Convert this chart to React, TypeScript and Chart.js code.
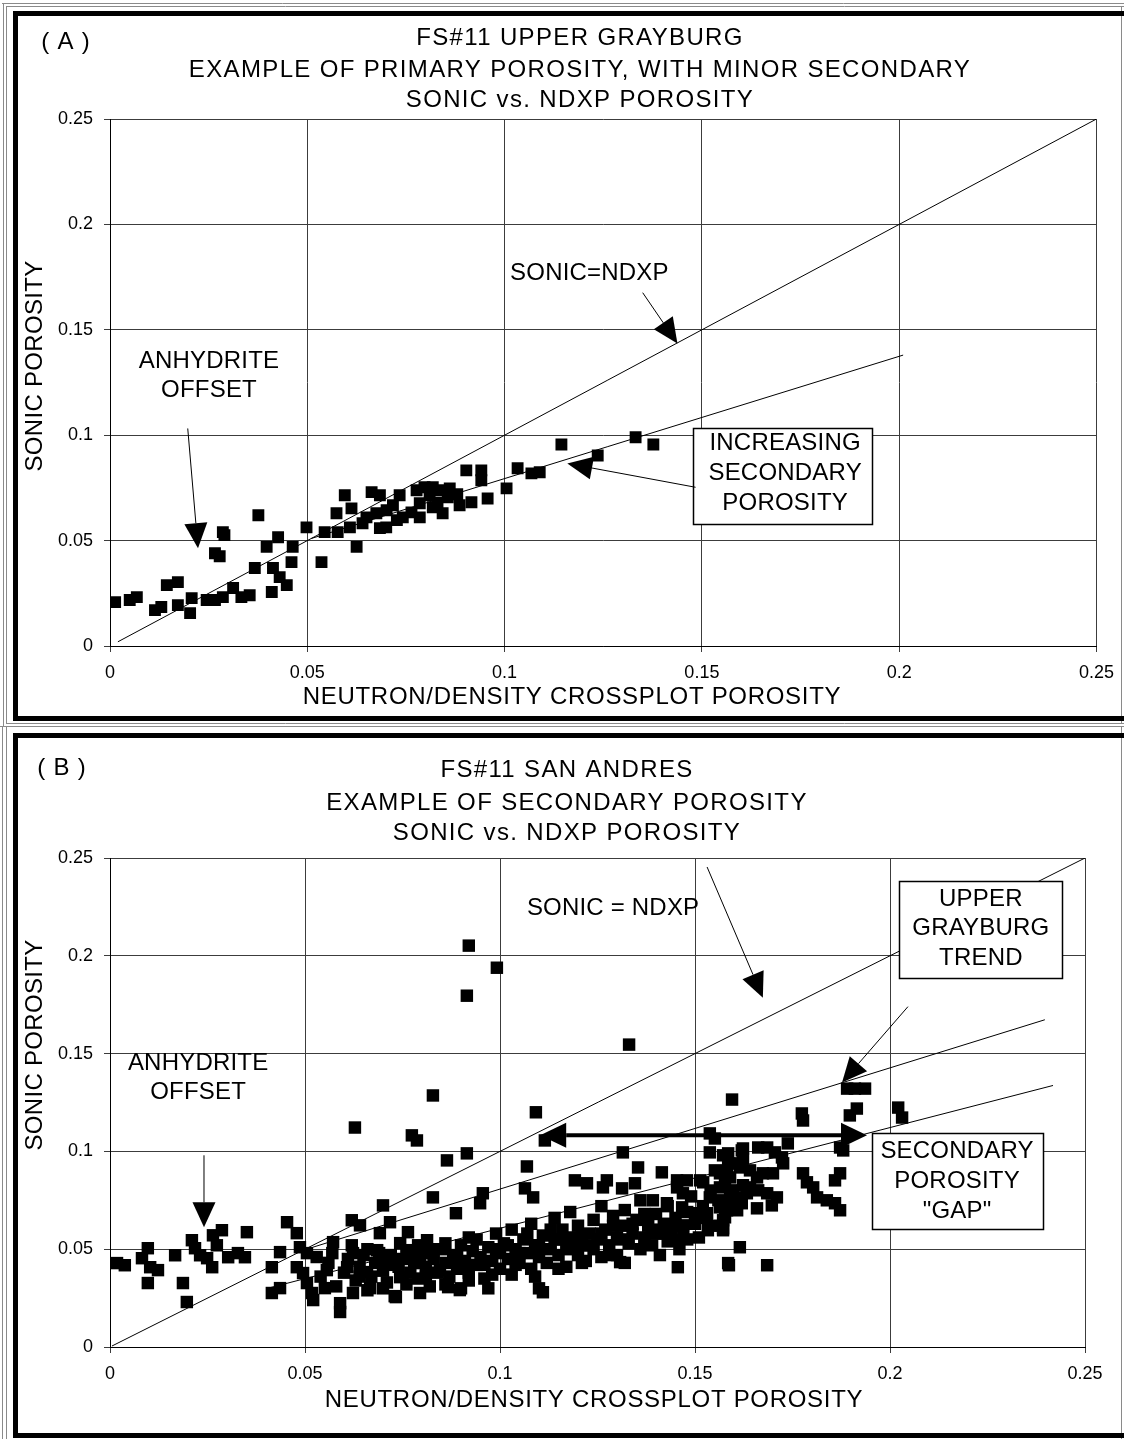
import React, { useEffect, useRef } from 'react';
import { Chart, registerables } from 'chart.js';

Chart.register(...registerables);

const FONT = '"Liberation Sans", Arial, Helvetica, sans-serif';

const axisTicks = [0, 0.05, 0.1, 0.15, 0.2, 0.25];
const axisTickLabels = ['0', '0.05', '0.1', '0.15', '0.2', '0.25'];

const titleA = ['FS#11 UPPER GRAYBURG', 'EXAMPLE OF PRIMARY POROSITY, WITH MINOR SECONDARY', 'SONIC vs. NDXP POROSITY'];
const titleB = ['FS#11 SAN ANDRES', 'EXAMPLE OF SECONDARY POROSITY', 'SONIC vs. NDXP POROSITY'];
const xAxisTitle = 'NEUTRON/DENSITY CROSSPLOT POROSITY';
const yAxisTitle = 'SONIC POROSITY';

// Panel A: Upper Grayburg (x = NDXP porosity, y = sonic porosity)
const upperGrayburgPoints: number[][] = [
  [0.0013, 0.0208], [0.005, 0.0218], [0.0068, 0.0232], [0.0114, 0.017], [0.013, 0.0185], [0.0144, 0.0289],
  [0.0172, 0.0303], [0.0172, 0.0194], [0.0203, 0.0156], [0.0207, 0.0227], [0.0245, 0.0218], [0.0266, 0.0218],
  [0.0286, 0.0232], [0.0312, 0.0275], [0.0333, 0.0232], [0.0354, 0.0241], [0.0266, 0.044], [0.0278, 0.0426],
  [0.0286, 0.054], [0.029, 0.0526], [0.0376, 0.062], [0.0367, 0.037], [0.0397, 0.047], [0.0413, 0.037],
  [0.0426, 0.0516], [0.041, 0.0256], [0.043, 0.0327], [0.0448, 0.0289], [0.046, 0.0398], [0.0463, 0.047],
  [0.0498, 0.0563], [0.0536, 0.0398], [0.0544, 0.054], [0.0574, 0.063], [0.0577, 0.054], [0.0595, 0.0715],
  [0.0612, 0.0653], [0.0625, 0.047], [0.0608, 0.0563], [0.064, 0.0582], [0.065, 0.061], [0.0663, 0.073],
  [0.0684, 0.0715], [0.0675, 0.063], [0.0684, 0.0559], [0.0701, 0.0644], [0.0717, 0.0668], [0.0734, 0.0715],
  [0.0742, 0.061], [0.0764, 0.0634], [0.0777, 0.0739], [0.0785, 0.061], [0.0797, 0.0753], [0.081, 0.0715],
  [0.0818, 0.0753], [0.0835, 0.0739], [0.0843, 0.063], [0.0856, 0.0705], [0.0861, 0.0748], [0.0886, 0.0668],
  [0.0903, 0.0833], [0.0916, 0.0682], [0.0941, 0.0833], [0.0941, 0.0786], [0.0957, 0.07], [0.1005, 0.0748],
  [0.1033, 0.0843], [0.1068, 0.0819], [0.1089, 0.0824], [0.1144, 0.0956], [0.1236, 0.0904], [0.1332, 0.099],
  [0.1377, 0.0956], [0.0785, 0.0677], [0.0818, 0.0658], [0.0727, 0.0597], [0.07, 0.0563], [0.088, 0.072],
  [0.083, 0.068],
];
const equalLineA: number[][] = [[0.002, 0.002], [0.25, 0.25]];
const grayburgTrendA: number[][] = [[0.051, 0.051], [0.201, 0.138]];

// Panel B: San Andres
const sanAndresPoints: number[][] = [
  [0.0018, 0.0429], [0.0038, 0.0418], [0.0082, 0.0454], [0.0097, 0.0505], [0.0103, 0.0408], [0.0097, 0.0327],
  [0.0123, 0.0393], [0.0167, 0.0469], [0.0187, 0.0327], [0.0197, 0.023], [0.021, 0.0546], [0.0218, 0.0505],
  [0.0231, 0.0469], [0.0249, 0.0454], [0.0262, 0.0408], [0.0264, 0.0571], [0.0287, 0.0597], [0.0274, 0.052],
  [0.0303, 0.0459], [0.0328, 0.048], [0.0346, 0.0459], [0.0351, 0.0587], [0.0436, 0.0485], [0.0415, 0.0408],
  [0.0415, 0.0276], [0.0436, 0.0301], [0.0454, 0.0638], [0.0479, 0.0582], [0.0487, 0.051], [0.0505, 0.048],
  [0.0479, 0.0408], [0.0495, 0.0378], [0.0505, 0.0327], [0.0518, 0.0276], [0.0521, 0.024], [0.0551, 0.0301],
  [0.0572, 0.0536], [0.0556, 0.0393], [0.059, 0.0224], [0.059, 0.0179], [0.062, 0.0648], [0.0641, 0.0622],
  [0.0623, 0.048], [0.0608, 0.0408], [0.0623, 0.0276], [0.0659, 0.0383], [0.0667, 0.0301], [0.0628, 0.1122],
  [0.07, 0.0724], [0.0692, 0.0582], [0.0718, 0.0638], [0.0685, 0.0495], [0.071, 0.0444], [0.0744, 0.0357],
  [0.0764, 0.0587], [0.0769, 0.0495], [0.0795, 0.0429], [0.0795, 0.0276], [0.0828, 0.0765], [0.0828, 0.1286],
  [0.0774, 0.1082], [0.0787, 0.1056], [0.0813, 0.0546], [0.0828, 0.048], [0.0864, 0.0954], [0.0846, 0.0393],
  [0.0867, 0.0306], [0.0744, 0.0531],
  [0.0992, 0.1939], [0.0915, 0.1796], [0.092, 0.2052], [0.1331, 0.1546], [0.1092, 0.12], [0.1115, 0.1056],
  [0.0915, 0.099], [0.1069, 0.0923], [0.1315, 0.0995], [0.1354, 0.0918], [0.1415, 0.0893], [0.1595, 0.1265],
  [0.1538, 0.1092], [0.1551, 0.1066], [0.1538, 0.0995], [0.1572, 0.098], [0.162, 0.1005], [0.0887, 0.0684],
  [0.0956, 0.0786], [0.0949, 0.0735], [0.1064, 0.0811], [0.1085, 0.0765], [0.1192, 0.0852], [0.1223, 0.0837],
  [0.1274, 0.0852], [0.1264, 0.0816], [0.1313, 0.0811], [0.1346, 0.0837], [0.1392, 0.075], [0.1428, 0.0735],
  [0.1454, 0.0852], [0.1479, 0.0852], [0.1513, 0.0852], [0.1454, 0.0816], [0.1469, 0.0786], [0.1467, 0.0714],
  [0.1469, 0.0622], [0.1456, 0.0546], [0.1456, 0.0408], [0.1533, 0.0597], [0.1508, 0.0684], [0.1538, 0.0765],
  [0.1572, 0.0607], [0.1585, 0.0429], [0.1615, 0.051], [0.1308, 0.0434], [0.1551, 0.0903], [0.1582, 0.0903],
  [0.1597, 0.0939], [0.1577, 0.0837], [0.1597, 0.0801], [0.1623, 0.0827], [0.1633, 0.0786], [0.1582, 0.0699],
  [0.1577, 0.0663], [0.1608, 0.0699], [0.162, 0.0735],
  [0.1774, 0.1194], [0.1777, 0.1158], [0.189, 0.1321], [0.191, 0.1321], [0.1936, 0.1321], [0.1915, 0.1219],
  [0.1897, 0.1184], [0.2021, 0.1224], [0.2031, 0.1173], [0.1872, 0.102], [0.188, 0.1005], [0.1585, 0.099],
  [0.1585, 0.0939], [0.1623, 0.1015], [0.1623, 0.0964], [0.1662, 0.102], [0.1685, 0.102], [0.1705, 0.0995],
  [0.1723, 0.0969], [0.1738, 0.1041], [0.1726, 0.0939], [0.1564, 0.0888], [0.159, 0.0867], [0.1615, 0.0918],
  [0.1641, 0.0903], [0.1659, 0.0867], [0.1674, 0.0888], [0.1521, 0.0842], [0.17, 0.0888], [0.1777, 0.0888],
  [0.1787, 0.0842], [0.1803, 0.0816], [0.1813, 0.0765], [0.1838, 0.075], [0.1859, 0.0735], [0.1872, 0.0699],
  [0.1859, 0.0852], [0.1872, 0.0888], [0.1564, 0.0816], [0.159, 0.0786], [0.1564, 0.0714], [0.159, 0.0735],
  [0.1615, 0.0765], [0.1641, 0.0816], [0.1662, 0.0801], [0.1685, 0.0786], [0.171, 0.0765], [0.1659, 0.0709],
  [0.1697, 0.0724], [0.1531, 0.0684], [0.1572, 0.0648], [0.1572, 0.0597], [0.1587, 0.0418], [0.1685, 0.0418],
  [0.053, 0.046], [0.054, 0.036], [0.056, 0.043], [0.057, 0.048], [0.058, 0.031], [0.06, 0.038], [0.061, 0.045],
  [0.063, 0.034], [0.064, 0.041], [0.065, 0.047], [0.066, 0.029], [0.067, 0.036], [0.068, 0.043], [0.07, 0.039],
  [0.071, 0.033], [0.072, 0.047], [0.073, 0.026], [0.074, 0.041], [0.075, 0.045], [0.076, 0.032], [0.077, 0.038],
  [0.078, 0.044], [0.079, 0.035], [0.08, 0.048], [0.081, 0.041], [0.082, 0.031], [0.083, 0.045], [0.084, 0.038],
  [0.085, 0.05], [0.086, 0.043], [0.087, 0.036], [0.088, 0.047], [0.089, 0.04], [0.09, 0.03], [0.09, 0.052],
  [0.091, 0.044], [0.092, 0.038], [0.093, 0.049], [0.094, 0.055], [0.094, 0.042], [0.095, 0.046], [0.096, 0.035],
  [0.097, 0.051], [0.097, 0.03], [0.098, 0.044], [0.099, 0.058], [0.1, 0.048], [0.1, 0.04], [0.101, 0.053],
  [0.102, 0.045], [0.103, 0.06], [0.103, 0.037], [0.104, 0.05], [0.105, 0.043], [0.106, 0.055], [0.107, 0.048],
  [0.108, 0.063], [0.108, 0.04], [0.109, 0.052], [0.11, 0.03], [0.11, 0.046], [0.111, 0.057], [0.111, 0.028],
  [0.112, 0.043], [0.113, 0.05], [0.114, 0.066], [0.114, 0.055], [0.115, 0.047], [0.116, 0.06], [0.117, 0.041],
  [0.117, 0.052], [0.118, 0.069], [0.119, 0.056], [0.12, 0.047], [0.12, 0.062], [0.121, 0.052], [0.122, 0.044],
  [0.123, 0.058], [0.124, 0.065], [0.124, 0.05], [0.125, 0.055], [0.126, 0.072], [0.126, 0.046], [0.127, 0.06],
  [0.128, 0.052], [0.129, 0.067], [0.13, 0.056], [0.13, 0.047], [0.131, 0.062], [0.132, 0.043], [0.132, 0.07],
  [0.133, 0.053], [0.134, 0.058], [0.135, 0.065], [0.136, 0.05], [0.136, 0.075], [0.137, 0.056], [0.138, 0.062],
  [0.139, 0.052], [0.14, 0.068], [0.14, 0.058], [0.141, 0.047], [0.142, 0.063], [0.143, 0.072], [0.143, 0.054],
  [0.144, 0.059], [0.145, 0.066], [0.146, 0.05], [0.147, 0.06], [0.148, 0.069], [0.148, 0.055], [0.149, 0.077],
  [0.15, 0.063], [0.151, 0.056], [0.152, 0.072], [0.153, 0.066], [0.154, 0.08], [0.155, 0.062], [0.156, 0.075],
  [0.0733, 0.0255], [0.0897, 0.0291],
  [0.062, 0.052], [0.066, 0.05], [0.069, 0.048], [0.072, 0.042], [0.076, 0.049], [0.079, 0.052], [0.082, 0.05],
  [0.086, 0.053], [0.089, 0.046], [0.092, 0.056], [0.096, 0.042], [0.099, 0.05], [0.102, 0.052], [0.105, 0.048],
  [0.107, 0.058], [0.11, 0.052], [0.113, 0.06], [0.116, 0.055], [0.118, 0.05], [0.121, 0.057], [0.123, 0.052],
  [0.126, 0.058], [0.129, 0.062], [0.131, 0.055], [0.134, 0.063], [0.137, 0.068], [0.139, 0.06], [0.142, 0.058],
  [0.145, 0.062], [0.064, 0.036], [0.07, 0.03], [0.075, 0.036], [0.081, 0.036], [0.086, 0.032], [0.092, 0.034],
  [0.098, 0.037], [0.104, 0.042], [0.109, 0.036], [0.115, 0.04], [0.121, 0.043], [0.128, 0.047],
];
const equalLineB: number[][] = [[0.0005, 0.0005], [0.25, 0.25]];
const grayburgTrendB: number[][] = [[0.052, 0.051], [0.2397, 0.1673]];
const sanAndresTrendB: number[][] = [[0.04, 0.0298], [0.2418, 0.1337]];

type Ann =
  | { kind: 'text'; x: number; y: number; lines: string[]; gap: number }
  | { kind: 'arrow'; from: number[]; to: number[]; width?: number; double?: boolean; head?: number; half?: number }
  | { kind: 'box'; x1: number; y1: number; x2: number; y2: number };

const annotationsA: Ann[] = [
  { kind: 'text', x: 0.1215, y: 0.177, lines: ['SONIC=NDXP'], gap: 0 },
  { kind: 'arrow', from: [0.135, 0.1676], to: [0.1438, 0.1435] },
  { kind: 'text', x: 0.0251, y: 0.135, lines: ['ANHYDRITE', 'OFFSET'], gap: 29 },
  { kind: 'arrow', from: [0.0197, 0.1032], to: [0.0223, 0.0464] },
  { kind: 'box', x1: 0.1478, y1: 0.1032, x2: 0.1932, y2: 0.0578 },
  { kind: 'text', x: 0.1711, y: 0.0961, lines: ['INCREASING', 'SECONDARY', 'POROSITY'], gap: 30 },
  { kind: 'arrow', from: [0.1484, 0.0753], to: [0.1159, 0.0866] },
];

const annotationsB: Ann[] = [
  { kind: 'text', x: 0.129, y: 0.2245, lines: ['SONIC = NDXP'], gap: 0 },
  { kind: 'arrow', from: [0.1531, 0.2454], to: [0.1674, 0.1786] },
  { kind: 'box', x1: 0.2023, y1: 0.2383, x2: 0.2441, y2: 0.1888 },
  { kind: 'text', x: 0.2233, y: 0.2291, lines: ['UPPER', 'GRAYBURG', 'TREND'], gap: 29.5 },
  { kind: 'arrow', from: [0.2046, 0.174], to: [0.1877, 0.1352] },
  { kind: 'text', x: 0.0226, y: 0.1449, lines: ['ANHYDRITE', 'OFFSET'], gap: 29 },
  { kind: 'arrow', from: [0.0241, 0.098], to: [0.0241, 0.0612] },
  { kind: 'arrow', from: [0.1103, 0.1082], to: [0.1941, 0.1082], width: 4, double: true, head: 26, half: 12.5 },
  { kind: 'box', x1: 0.1954, y1: 0.1092, x2: 0.2392, y2: 0.0602 },
  { kind: 'text', x: 0.2172, y: 0.1, lines: ['SECONDARY', 'POROSITY', '"GAP"'], gap: 30 },
];

interface PanelCfg {
  height: number;
  points: number[][];
  lines: number[][][];
  pointRadius: number;
  padTop: number;
  padRight: number;
  xAxisHeight: number;
  title: string[];
  titleX: number;
  titleY: number[];
  tag: string;
  tagPos: number[];
  xTitlePos: number[];
  yTitlePos: number[];
  frame: number[];
  gray: number[][];
  annotations: Ann[];
}

const panelA: PanelCfg = {
  height: 727,
  points: upperGrayburgPoints,
  lines: [equalLineA, grayburgTrendA],
  pointRadius: 8.4,
  padTop: 119,
  padRight: 27,
  xAxisHeight: 81,
  title: titleA,
  titleX: 580,
  titleY: [38.5, 70, 100],
  tag: '( A )',
  tagPos: [66, 42],
  xTitlePos: [572, 697],
  yTitlePos: [35, 366],
  frame: [15.5, 13.5, 1130, 705],
  gray: [[2, 3.5, 1124, 3.5], [6, 6.5, 1124, 6.5], [3.5, 3, 3.5, 727], [6.5, 6, 6.5, 724], [6, 723.5, 1124, 723.5], [0, 726.5, 1124, 726.5], [1121.5, 6, 1121.5, 724]],
  annotations: annotationsA,
};

const panelB: PanelCfg = {
  height: 712,
  points: sanAndresPoints,
  lines: [equalLineB, grayburgTrendB, sanAndresTrendB],
  pointRadius: 8.8,
  padTop: 131,
  padRight: 39,
  xAxisHeight: 92,
  title: titleB,
  titleX: 567,
  titleY: [43.5, 76.5, 106.5],
  tag: '( B )',
  tagPos: [62, 41],
  xTitlePos: [594, 673],
  yTitlePos: [35, 318],
  frame: [15.5, 8.5, 1130, 700],
  gray: [[2.5, 0, 2.5, 712], [6.5, 0, 6.5, 712], [1121.5, 0, 1121.5, 712]],
  annotations: annotationsB,
};

function setSpacing(ctx: CanvasRenderingContext2D, px: number) {
  (ctx as any).letterSpacing = `${px}px`;
}

function drawArrowHead(ctx: CanvasRenderingContext2D, fx: number, fy: number, tx: number, ty: number, len: number, half: number) {
  const dx = tx - fx;
  const dy = ty - fy;
  const d = Math.hypot(dx, dy) || 1;
  const ux = dx / d;
  const uy = dy / d;
  const bx = tx - ux * len;
  const by = ty - uy * len;
  ctx.beginPath();
  ctx.moveTo(tx, ty);
  ctx.lineTo(bx - uy * half, by + ux * half);
  ctx.lineTo(bx + uy * half, by - ux * half);
  ctx.closePath();
  ctx.fill();
  return [bx, by];
}

const decorPlugin = {
  id: 'decor',
  beforeDraw(chart: any, _args: any, opts: any) {
    const cfg: PanelCfg = opts.cfg;
    const ctx: CanvasRenderingContext2D = chart.ctx;
    ctx.save();
    ctx.fillStyle = '#ffffff';
    ctx.fillRect(0, 0, chart.width, chart.height);
    ctx.strokeStyle = '#8a8a8a';
    ctx.lineWidth = 1;
    cfg.gray.forEach((g) => {
      ctx.beginPath();
      ctx.moveTo(g[0], g[1]);
      ctx.lineTo(g[2], g[3]);
      ctx.stroke();
    });
    ctx.strokeStyle = '#000000';
    ctx.lineWidth = 5;
    ctx.strokeRect(cfg.frame[0], cfg.frame[1], cfg.frame[2], cfg.frame[3]);
    ctx.restore();
  },
  afterDatasetsDraw(chart: any, _args: any, opts: any) {
    const cfg: PanelCfg = opts.cfg;
    const ctx: CanvasRenderingContext2D = chart.ctx;
    const xs = chart.scales.x;
    const ys = chart.scales.y;
    const px = (v: number) => xs.getPixelForValue(v);
    const py = (v: number) => ys.getPixelForValue(v);
    ctx.save();
    ctx.font = `24px ${FONT}`;
    ctx.textAlign = 'center';
    ctx.textBaseline = 'middle';
    setSpacing(ctx, 0.2);
    cfg.annotations.forEach((a) => {
      if (a.kind === 'box') {
        const x1 = Math.round(px(a.x1)) + 0.5;
        const y1 = Math.round(py(a.y1)) + 0.5;
        const x2 = Math.round(px(a.x2)) + 0.5;
        const y2 = Math.round(py(a.y2)) + 0.5;
        ctx.fillStyle = '#ffffff';
        ctx.fillRect(x1, y1, x2 - x1, y2 - y1);
        ctx.strokeStyle = '#000000';
        ctx.lineWidth = 1.5;
        ctx.strokeRect(x1, y1, x2 - x1, y2 - y1);
      } else if (a.kind === 'arrow') {
        const fx = px(a.from[0]);
        const fy = py(a.from[1]);
        const tx = px(a.to[0]);
        const ty = py(a.to[1]);
        const len = a.head ?? 25;
        const half = a.half ?? 11.5;
        ctx.fillStyle = '#000000';
        ctx.strokeStyle = '#000000';
        ctx.lineWidth = a.width ?? 1;
        const [bx, by] = drawArrowHead(ctx, fx, fy, tx, ty, len, half);
        let sx = fx;
        let sy = fy;
        if (a.double) {
          const r = drawArrowHead(ctx, tx, ty, fx, fy, len, half);
          sx = r[0];
          sy = r[1];
        }
        ctx.beginPath();
        ctx.moveTo(sx, sy);
        ctx.lineTo(bx, by);
        ctx.stroke();
      } else if (a.kind === 'text') {
        ctx.fillStyle = '#000000';
        const x = px(a.x);
        const y = py(a.y);
        a.lines.forEach((l, i) => ctx.fillText(l, x, y + i * a.gap));
      }
    });
    ctx.restore();
  },
  afterDraw(chart: any, _args: any, opts: any) {
    const cfg: PanelCfg = opts.cfg;
    const ctx: CanvasRenderingContext2D = chart.ctx;
    ctx.save();
    ctx.fillStyle = '#000000';
    ctx.textBaseline = 'middle';
    ctx.font = `24px ${FONT}`;
    ctx.textAlign = 'center';
    setSpacing(ctx, 1.35);
    cfg.title.forEach((t, i) => ctx.fillText(t, cfg.titleX, cfg.titleY[i]));
    setSpacing(ctx, 0.8);
    ctx.fillText(cfg.tag, cfg.tagPos[0], cfg.tagPos[1]);
    setSpacing(ctx, 0.7);
    ctx.fillText(xAxisTitle, cfg.xTitlePos[0], cfg.xTitlePos[1]);
    setSpacing(ctx, 0.3);
    ctx.translate(cfg.yTitlePos[0], cfg.yTitlePos[1]);
    ctx.rotate(-Math.PI / 2);
    ctx.fillText(yAxisTitle, 0, 0);
    ctx.restore();
  },
};

function axisOptions(axis: 'x' | 'y', size: number) {
  return {
    type: 'linear' as const,
    min: 0,
    max: 0.25,
    afterBuildTicks: (s: any) => {
      s.ticks = axisTicks.map((v) => ({ value: v }));
    },
    afterFit: (s: any) => {
      if (axis === 'x') s.height = size;
      else s.width = size;
    },
    ticks: {
      autoSkip: false,
      maxRotation: 0,
      padding: axis === 'x' ? 10 : 11,
      color: '#000000',
      font: { family: FONT, size: 18 },
      callback: (v: any) => {
        const i = axisTicks.findIndex((t) => Math.abs(t - Number(v)) < 1e-9);
        return i >= 0 ? axisTickLabels[i] : '';
      },
    },
    grid: { color: '#3c3c3c', lineWidth: 1, tickLength: 6, drawTicks: true },
    border: { display: true, color: '#000000', width: 1 },
  };
}

function buildConfig(cfg: PanelCfg): any {
  const datasets: any[] = [
    {
      data: cfg.points.map((p) => ({ x: p[0], y: p[1] })),
      showLine: false,
      pointStyle: 'rect',
      pointRadius: cfg.pointRadius,
      pointBackgroundColor: '#000000',
      pointBorderWidth: 0,
      pointBorderColor: '#000000',
    },
    ...cfg.lines.map((l) => ({
      data: l.map((p) => ({ x: p[0], y: p[1] })),
      showLine: true,
      borderColor: '#000000',
      borderWidth: 1,
      pointRadius: 0,
      fill: false,
    })),
  ];
  return {
    type: 'scatter',
    data: { datasets },
    options: {
      animation: false,
      responsive: false,
      events: [],
      layout: { padding: { top: cfg.padTop, right: cfg.padRight, left: 0, bottom: 0 } },
      scales: {
        x: axisOptions('x', cfg.xAxisHeight),
        y: axisOptions('y', 110),
      },
      plugins: {
        legend: { display: false },
        tooltip: { enabled: false },
        title: { display: false },
        decor: { cfg },
      },
    },
    plugins: [decorPlugin],
  };
}

function Panel({ cfg }: { cfg: PanelCfg }) {
  const ref = useRef<HTMLCanvasElement | null>(null);
  useEffect(() => {
    if (!ref.current) return;
    const chart = new Chart(ref.current, buildConfig(cfg));
    return () => chart.destroy();
  }, [cfg]);
  return (
    <canvas
      ref={ref}
      width={1124}
      height={cfg.height}
      style={{ display: 'block', width: 1124, height: cfg.height }}
    />
  );
}

export default function App() {
  return (
    <div style={{ position: 'absolute', left: 0, top: 0, width: 1124, height: 1439, background: '#ffffff', overflow: 'hidden' }}>
      <Panel cfg={panelA} />
      <Panel cfg={panelB} />
    </div>
  );
}
